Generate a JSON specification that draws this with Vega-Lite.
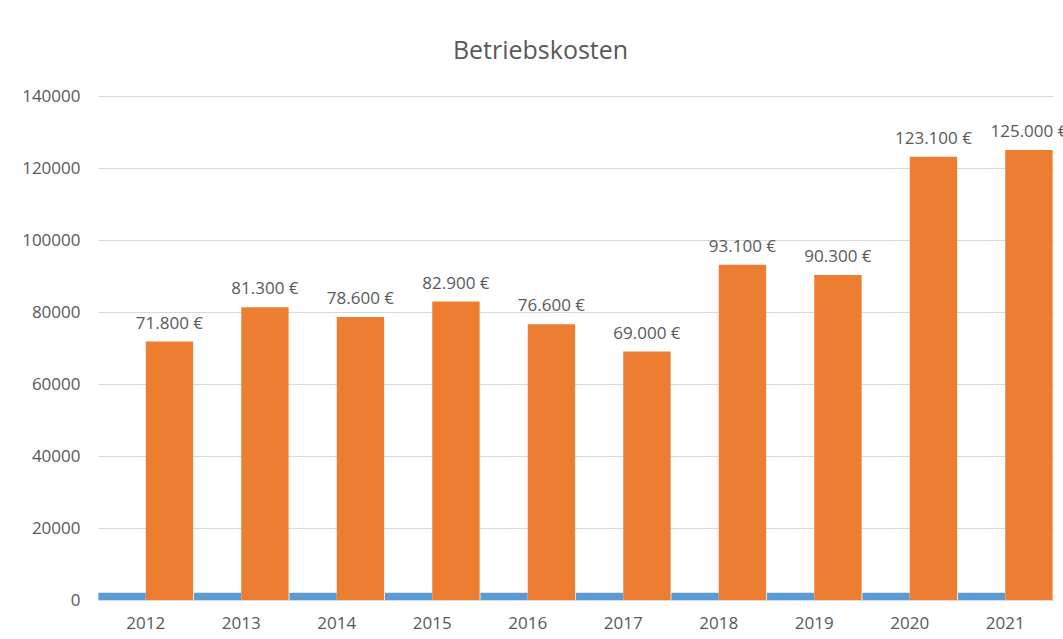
{
  "$schema": "https://vega.github.io/schema/vega-lite/v6.json",
  "autosize": {"type": "none"},
  "width": 955,
  "height": 504,
  "padding": {"left": 98, "top": 96, "right": 10, "bottom": 39},
  "background": "white",
  "config": {
    "font": "Open Sans",
    "view": {"stroke": null},
    "locale": {"number": {"decimal": ",", "thousands": ".", "grouping": [3], "currency": ["", "\u00a0€"]}}
  },
  "title": {"text": "Betriebskosten", "fontSize": 25, "fontWeight": "normal", "color": "#595959", "font": "Open Sans", "offset": 23, "dx": -35, "anchor": "middle"},
  "data": {"values": [
    {"Jahr": "2012", "Reihe": "Jahr", "Wert": 2012}, {"Jahr": "2012", "Reihe": "Betriebskosten", "Wert": 71800},
    {"Jahr": "2013", "Reihe": "Jahr", "Wert": 2013}, {"Jahr": "2013", "Reihe": "Betriebskosten", "Wert": 81300},
    {"Jahr": "2014", "Reihe": "Jahr", "Wert": 2014}, {"Jahr": "2014", "Reihe": "Betriebskosten", "Wert": 78600},
    {"Jahr": "2015", "Reihe": "Jahr", "Wert": 2015}, {"Jahr": "2015", "Reihe": "Betriebskosten", "Wert": 82900},
    {"Jahr": "2016", "Reihe": "Jahr", "Wert": 2016}, {"Jahr": "2016", "Reihe": "Betriebskosten", "Wert": 76600},
    {"Jahr": "2017", "Reihe": "Jahr", "Wert": 2017}, {"Jahr": "2017", "Reihe": "Betriebskosten", "Wert": 69000},
    {"Jahr": "2018", "Reihe": "Jahr", "Wert": 2018}, {"Jahr": "2018", "Reihe": "Betriebskosten", "Wert": 93100},
    {"Jahr": "2019", "Reihe": "Jahr", "Wert": 2019}, {"Jahr": "2019", "Reihe": "Betriebskosten", "Wert": 90300},
    {"Jahr": "2020", "Reihe": "Jahr", "Wert": 2020}, {"Jahr": "2020", "Reihe": "Betriebskosten", "Wert": 123100},
    {"Jahr": "2021", "Reihe": "Jahr", "Wert": 2021}, {"Jahr": "2021", "Reihe": "Betriebskosten", "Wert": 125000}
  ]},
  "encoding": {
    "x": {"field": "Jahr", "type": "nominal", "title": null,
      "scale": {"paddingInner": 0, "paddingOuter": 0},
      "axis": {"labelAngle": 0, "labelFontSize": 17, "labelColor": "#595959", "labelPadding": 15, "ticks": false, "domainColor": "#d9d9d9", "domainWidth": 1}},
    "xOffset": {"field": "Reihe", "type": "nominal", "sort": ["Jahr", "Betriebskosten"], "scale": {"paddingInner": 0, "paddingOuter": 0.008}},
    "y": {"field": "Wert", "type": "quantitative", "title": null,
      "scale": {"domain": [0, 140000], "nice": false},
      "axis": {"values": [0, 20000, 40000, 60000, 80000, 100000, 120000, 140000], "format": "d", "labelFontSize": 17, "labelColor": "#595959", "labelPadding": 18, "ticks": false, "domain": false, "gridColor": "#d9d9d9", "gridWidth": 1}}
  },
  "layer": [
    {"mark": {"type": "bar"},
      "encoding": {"color": {"field": "Reihe", "type": "nominal", "legend": null, "scale": {"domain": ["Jahr", "Betriebskosten"], "range": ["#5B9BD5", "#ED7D31"]}}}},
    {"transform": [{"filter": "datum.Reihe === 'Betriebskosten'"}],
      "mark": {"type": "text", "baseline": "bottom", "dy": -9, "fontSize": 17, "color": "#595959"},
      "encoding": {"text": {"field": "Wert", "type": "quantitative", "format": "$,.0f"}}}
  ]
}
